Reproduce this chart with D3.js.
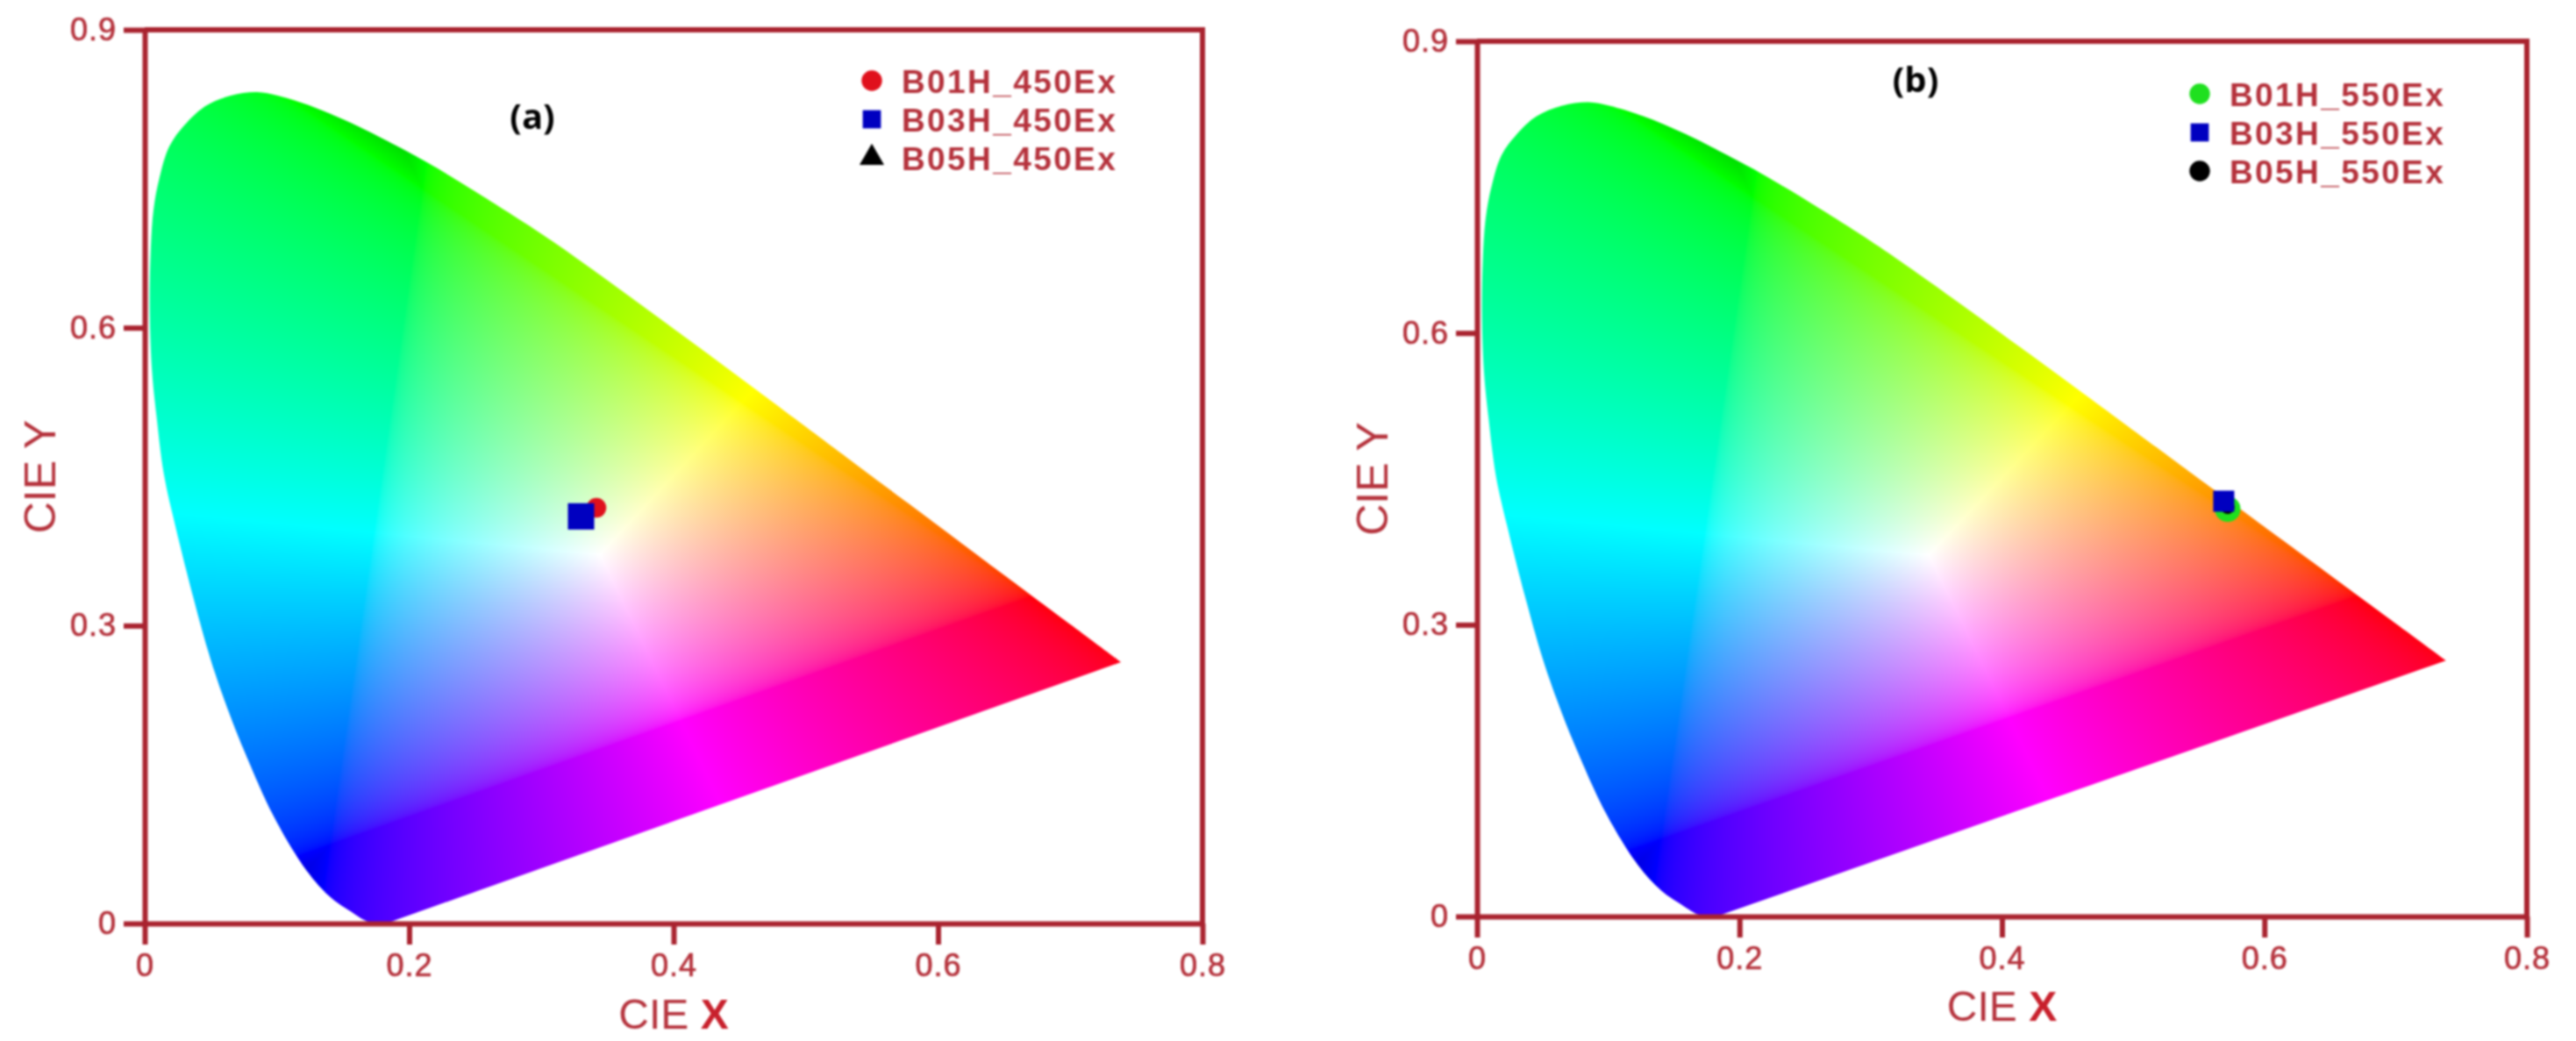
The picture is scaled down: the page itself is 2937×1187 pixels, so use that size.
<!DOCTYPE html>
<html>
<head>
<meta charset="utf-8">
<script src="https://cdn.jsdelivr.net/npm/d3@7"></script>
<style>
  html, body { margin: 0; padding: 0; background: #fff; }
  svg { display: block; filter: blur(0.8px); }
  text { font-family: "Liberation Sans", Arial, sans-serif; fill: #b5323c; }
  .domain, .tick line, .frame { stroke: #a9232f; stroke-width: 6; fill: none; }
</style>
</head>
<body>
<script>
// Chart data
var xTicks = [0, 0.2, 0.4, 0.6, 0.8];
var yTicks = [0, 0.3, 0.6, 0.9];

// edge of the horseshoe, from the bottom round to the red tip
var locusX = [0.1857, 0.1700, 0.1560, 0.1404, 0.1227, 0.0984, 0.0763, 0.0630, 0.0498, 0.0365, 0.0232, 0.0144, 0.0088, 0.0055, 0.0038, 0.0044, 0.0066, 0.0111, 0.0186, 0.0299, 0.0451, 0.0650, 0.0849, 0.1006, 0.1272, 0.1559, 0.1844, 0.2110, 0.2375, 0.2641, 0.2886, 0.3136, 0.3642, 0.4117, 0.4558, 0.5031, 0.5403, 0.5776, 0.6183, 0.6620, 0.7028, 0.7383];
var locusY = [0.0015, 0.0015, 0.0120, 0.0265, 0.0527, 0.1057, 0.1705, 0.2150, 0.2660, 0.3295, 0.4001, 0.4530, 0.5123, 0.5564, 0.6150, 0.6739, 0.7180, 0.7507, 0.7825, 0.8037, 0.8226, 0.8337, 0.8373, 0.8337, 0.8226, 0.8064, 0.7873, 0.7683, 0.7475, 0.7254, 0.7045, 0.6822, 0.6340, 0.5875, 0.5440, 0.4970, 0.4600, 0.4230, 0.3825, 0.3390, 0.2985, 0.2632];

// primaries and white of the colour fill (x, y)
var primaryR = [0.67, 0.33];
var primaryG = [0.21, 0.74];
var primaryB = [0.14, 0.08];
var whitePoint = [0.344, 0.372];

var namesA = ["B01H_450Ex", "B03H_450Ex", "B05H_450Ex"];
var pointXA = [0.3416, 0.330, 0.330];
var pointYA = [0.4186, 0.410, 0.410];

var namesB = ["B01H_550Ex", "B03H_550Ex", "B05H_550Ex"];
var pointXB = [0.572, 0.569, 0.572];
var pointYB = [0.419, 0.427, 0.421];

// Layout
var svgWidth = 2937;
var svgHeight = 1187;
var gammaPower = 0.5;
var markerColorsA = ["#e0101c", "#0000c0", "#000000"];
var markerColorsB = ["#1fe01f", "#0000c0", "#000000"];
var markerShapesA = [d3.symbolCircle, d3.symbolSquare, d3.symbolTriangle];
var markerShapesB = [d3.symbolCircle, d3.symbolSquare, d3.symbolCircle];

var panels = [
  { id: "a", left: 165, right: 1371, top: 34, bottom: 1053, tag: "(a)", tagX: 607, tagY: 147, labelDrop: 120,
    names: namesA, xs: pointXA, ys: pointYA, colors: markerColorsA, shapes: markerShapesA,
    dataSize: [20, 30, 12], legendX: 994, legendY: 92, legendStep: 44 },
  { id: "b", left: 1684, right: 2881, top: 47, bottom: 1045, tag: "(b)", tagX: 2184, tagY: 105, labelDrop: 119,
    names: namesB, xs: pointXB, ys: pointYB, colors: markerColorsB, shapes: markerShapesB,
    dataSize: [26, 24, 14], legendX: 2508, legendY: 107, legendStep: 44 }
];

var svg = d3.select("body").append("svg")
  .attr("width", svgWidth)
  .attr("height", svgHeight);

// barycentric weights of a colour point against the three primaries
function weights(x, y) {
  var d = (primaryG[1] - primaryB[1]) * (primaryR[0] - primaryB[0]) + (primaryB[0] - primaryG[0]) * (primaryR[1] - primaryB[1]);
  var r = ((primaryG[1] - primaryB[1]) * (x - primaryB[0]) + (primaryB[0] - primaryG[0]) * (y - primaryB[1])) / d;
  var g = ((primaryB[1] - primaryR[1]) * (x - primaryB[0]) + (primaryR[0] - primaryB[0]) * (y - primaryB[1])) / d;
  return [r, g, 1 - r - g];
}
var whiteWeights = weights(whitePoint[0], whitePoint[1]);

// paint the colour field once per panel and hand it to the svg as an image
function colourField(xScale, yScale, width, height) {
  var canvas = document.createElement("canvas");
  canvas.width = width;
  canvas.height = height;
  var ctx = canvas.getContext("2d");
  var img = ctx.createImageData(width, height);
  for (var j = 0; j < height; j++) {
    for (var i = 0; i < width; i++) {
      var w = weights(xScale.invert(i), yScale.invert(j));
      var r = w[0] / whiteWeights[0];
      var g = w[1] / whiteWeights[1];
      var b = w[2] / whiteWeights[2];
      // past a primary two channels go negative, the picture gets a bit darker there
      var mid = d3.median([r, g, b]);
      var dim = mid < 0 ? 1 - Math.min(0.13, -mid * 1.2) : 1;
      r = Math.max(0, r);
      g = Math.max(0, g);
      b = Math.max(0, b);
      var m = Math.max(r, g, b) || 1;
      var k = (j * width + i) * 4;
      img.data[k] = 255 * dim * Math.pow(r / m, gammaPower);
      img.data[k + 1] = 255 * dim * Math.pow(g / m, gammaPower);
      img.data[k + 2] = 255 * dim * Math.pow(b / m, gammaPower);
      img.data[k + 3] = 255;
    }
  }
  ctx.putImageData(img, 0, 0);
  return canvas.toDataURL();
}

panels.forEach(function(p) {
  var width = p.right - p.left;
  var height = p.bottom - p.top;

  var xScale = d3.scaleLinear().domain([0, 0.8]).range([0, width]);
  var yScale = d3.scaleLinear().domain([0, 0.9]).range([height, 0]);

  var g = svg.append("g")
    .attr("transform", `translate(${p.left}, ${p.top})`);

  // horseshoe
  var line = d3.line()
    .x(function(d) { return xScale(locusX[d]); })
    .y(function(d) { return yScale(locusY[d]); })
    .curve(d3.curveCatmullRom);

  g.append("clipPath")
    .attr("id", "locus-" + p.id)
    .append("path")
    .attr("d", line(d3.range(locusX.length)) + "Z");

  g.append("image")
    .attr("width", width)
    .attr("height", height)
    .attr("href", colourField(xScale, yScale, width, height))
    .attr("clip-path", `url(#locus-${p.id})`);

  // frame, only the left and bottom carry ticks
  g.append("path")
    .attr("class", "frame")
    .attr("d", `M0,0H${width}V${height}`);

  var bottomAxis = d3.axisBottom(xScale)
    .tickValues(xTicks)
    .tickFormat(d3.format("~g"))
    .tickSizeInner(24)
    .tickSizeOuter(0)
    .tickPadding(10);

  var leftAxis = d3.axisLeft(yScale)
    .tickValues(yTicks)
    .tickFormat(d3.format("~g"))
    .tickSizeInner(24)
    .tickSizeOuter(0)
    .tickPadding(8);

  g.append("g").attr("transform", `translate(0, ${height})`).call(bottomAxis);
  g.append("g").call(leftAxis);
  g.selectAll(".tick text")
    .style("font-size", "36px")
    .style("letter-spacing", "1px")
    .style("stroke", "#b5323c")
    .style("stroke-width", "0.7px");

  var xLabel = g.append("text")
    .attr("x", width / 2)
    .attr("y", height + p.labelDrop)
    .attr("text-anchor", "middle")
    .style("font-size", "48px")
    .text("CIE ");
  xLabel.append("tspan")
    .style("font-weight", "bold")
    .style("fill", "#c8202c")
    .text("X");

  g.append("text")
    .attr("transform", `translate(-102, ${height / 2}) rotate(-90)`)
    .attr("text-anchor", "middle")
    .style("font-size", "50px")
    .text("CIE Y");

  // points, B03H goes last because it sits on top in the picture
  [0, 2, 1].forEach(function(i) {
    g.append("path")
      .attr("d", d3.symbol().type(p.shapes[i]).size(p.dataSize[i] * p.dataSize[i])())
      .attr("transform", `translate(${xScale(p.xs[i])}, ${yScale(p.ys[i])})`)
      .attr("fill", p.colors[i]);
  });

  // legend
  var legend = svg.append("g");
  p.names.forEach(function(name, i) {
    var y = p.legendY + i * p.legendStep;
    legend.append("path")
      .attr("d", d3.symbol().type(p.shapes[i]).size(p.shapes[i] === d3.symbolTriangle ? 340 : 430)())
      .attr("transform", `translate(${p.legendX}, ${y})`)
      .attr("fill", p.colors[i]);
    legend.append("text")
      .attr("x", p.legendX + 34)
      .attr("y", y + 14)
      .style("font-size", "37px")
      .style("font-weight", "bold")
      .style("letter-spacing", "2.4px")
      .text(name);
  });

  svg.append("text")
    .attr("x", p.tagX)
    .attr("y", p.tagY)
    .attr("text-anchor", "middle")
    .style("font-family", "'Open Sans', sans-serif")
    .style("font-size", "40px")
    .style("font-weight", "bold")
    .style("fill", "#000")
    .text(p.tag);
});
</script>
</body>
</html>
